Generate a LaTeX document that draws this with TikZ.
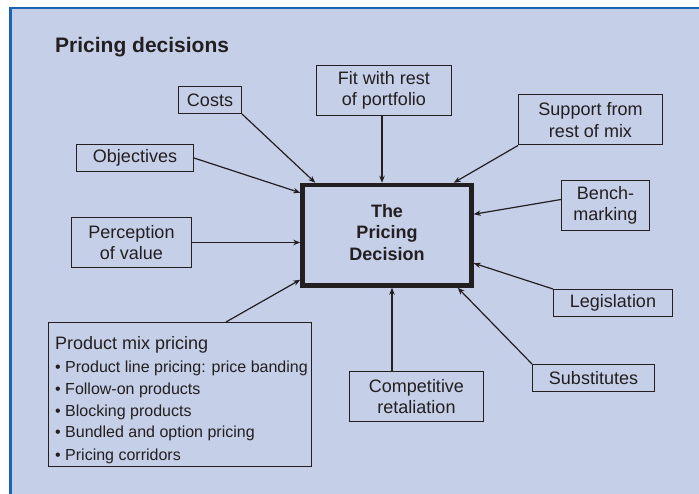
\documentclass[tikz,border=0pt]{standalone}
\usepackage{fontspec}
\setmainfont{Liberation Sans}
\usetikzlibrary{arrows.meta,calc}
\definecolor{panel}{HTML}{C5CFE8}
\definecolor{frame}{HTML}{1B63B3}
\definecolor{ink}{HTML}{231F20}
\begin{document}
\begin{tikzpicture}[x=1pt,y=-1pt,
  box/.style={draw=ink, line width=1pt, text=ink, align=center, inner sep=0pt,
    font=\fontsize{18}{21.5}\selectfont},
  mainbox/.style={draw=ink, line width=4.5pt, inner sep=0pt},
  maintext/.style={text=ink, align=center, inner sep=0pt,
    font=\bfseries\fontsize{18}{21.5}\selectfont},
  arr/.style={draw=ink, line width=1.2pt, -{Stealth[length=7pt,width=5.5pt]}},
  itemtext/.style={anchor=base west, inner sep=0pt, text=ink, font=\fontsize{16}{20}\selectfont}]
\useasboundingbox (0,0) rectangle (699,494);
\fill[white] (0,0) rectangle (699,494);
\fill[panel] (10.5,8) rectangle (699,494);
\draw[frame, line width=2.2pt] (10.5,494) -- (10.5,8) -- (699,8);

\node[anchor=base west, inner sep=0pt, text=ink, font=\bfseries\fontsize{21}{25}\selectfont] (title) at (55,53) {Pricing decisions};

\node[mainbox, minimum width=169pt, minimum height=100.5pt] (main) at (387,235.25) {};
\node[maintext] (maintxt) at ($(main.center)+(0,-3)$) {The\\Pricing\\Decision};

\node[box, minimum width=63pt, minimum height=27pt] (costs) at (210,100) {Costs};
\node[box, minimum width=135pt, minimum height=50pt] (fit) at (384,90.5) {Fit with rest\\of portfolio};
\node[box, minimum width=144pt, minimum height=50pt] (support) at (590.5,120) {Support from\\rest of mix};
\node[box, minimum width=117pt, minimum height=27pt] (obj) at (135,158) {Objectives};
\node[box, minimum width=88pt, minimum height=50pt] (bench) at (605.5,205.5) {Bench-\\marking};
\node[box, minimum width=120pt, minimum height=50pt] (perc) at (131.5,242.5) {Perception\\of value};
\node[box, minimum width=119pt, minimum height=27pt] (legis) at (613,303) {Legislation};
\node[box, minimum width=122pt, minimum height=27pt] (subst) at (593.5,378) {Substitutes};
\node[box, minimum width=134pt, minimum height=50pt] (comp) at (416.5,396.5) {Competitive\\retaliation};
\node[box, minimum width=263pt, minimum height=144pt] (pm) at (180,394.5) {};

\node[itemtext, font=\fontsize{18}{21.5}\selectfont] (pmh) at ($(pm.north west)+(7,27)$) {Product mix pricing};
\node[itemtext] (pm1) at ($(pm.north west)+(7,50.7)$) {\textbullet\ Product line pricing: price banding};
\node[itemtext] (pm2) at ($(pm.north west)+(7,72.3)$) {\textbullet\ Follow-on products};
\node[itemtext] (pm3) at ($(pm.north west)+(7,94)$) {\textbullet\ Blocking products};
\node[itemtext] (pm4) at ($(pm.north west)+(7,115.5)$) {\textbullet\ Bundled and option pricing};
\node[itemtext] (pm5) at ($(pm.north west)+(7,138)$) {\textbullet\ Pricing corridors};

\draw[arr] (costs.south east) -- ($(main.north west)+(15,0)$);
\draw[arr] (obj.east) -- ($(main.north west)+(0,10)$);
\draw[arr] (perc.east) -- (main.west |- perc.east);
\draw[arr] ($(fit.south)+(-2,0)$) -- ($(main.north)+(-5,0)$);
\draw[arr] (support.south west) -- ($(main.north east)+(-20,0)$);
\draw[arr] ($(bench.west)+(0,-6)$) -- ($(main.east)+(0,-21)$);
\draw[arr] (legis.north west) -- ($(main.east)+(0,28)$);
\draw[arr] (subst.north west) -- ($(main.south east)+(-16,0)$);
\draw[arr] ($(comp.north)+(-24.5,0)$) -- ($(main.south)+(5,0)$);
\draw[arr] ($(pm.north)+(46,0)$) -- ($(main.south west)+(0,-8)$);
\end{tikzpicture}
\end{document}
